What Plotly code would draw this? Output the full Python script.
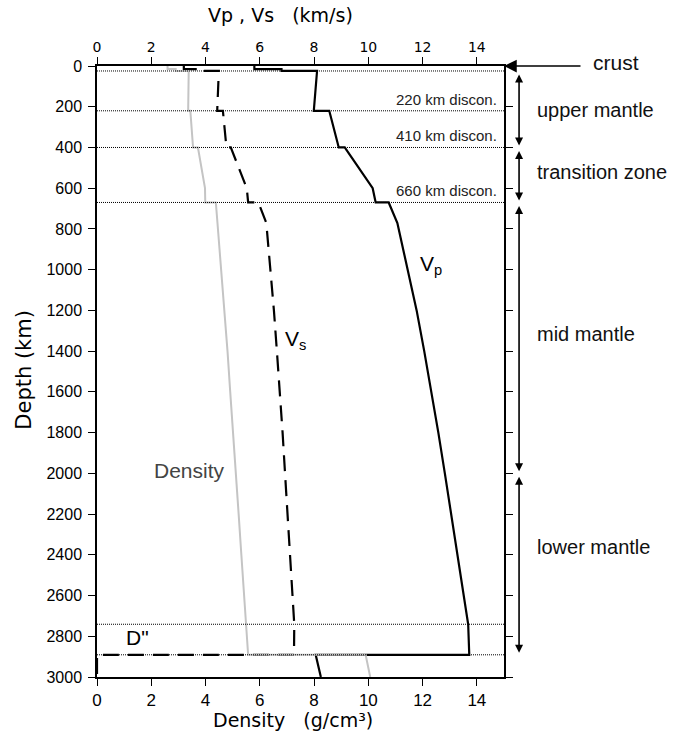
import plotly.graph_objects as go

# ---- data (PREM-like profile) ----
depth = [0, 15, 15, 24.4, 24.4, 220, 220, 400, 400, 600, 670, 670, 771, 1000, 1200,
         1400, 1600, 1800, 2000, 2200, 2400, 2600, 2741, 2891, 2891, 3000]
vp = [5.8, 5.8, 6.8, 6.8, 8.11, 7.99, 8.56, 8.91, 9.13, 10.16, 10.27, 10.75, 11.07, 11.46, 11.78,
      12.06, 12.33, 12.58, 12.82, 13.05, 13.28, 13.51, 13.68, 13.72, 8.06, 8.25]
vs = [3.2, 3.2, 3.9, 3.9, 4.49, 4.43, 4.64, 4.77, 4.93, 5.52, 5.57, 5.95, 6.24, 6.40, 6.52,
      6.63, 6.74, 6.84, 6.93, 7.02, 7.11, 7.20, 7.27, 7.26, 0.0, 0.0]
rho = [2.6, 2.6, 2.9, 2.9, 3.38, 3.36, 3.44, 3.54, 3.72, 3.98, 3.99, 4.38, 4.44, 4.58, 4.69,
       4.81, 4.91, 5.02, 5.12, 5.22, 5.32, 5.42, 5.49, 5.57, 9.90, 10.07]

boundaries = [24.4, 220, 400, 670, 2741, 2891]
discon_depths = [220, 400, 670]
discon_labels = ["220 km discon.", "410 km discon.", "660 km discon."]

zone_tops = [24.4, 400, 670, 2000]
zone_bottoms = [400, 670, 2000, 2891]
zone_names = ["upper mantle", "transition zone", "mid mantle", "lower mantle"]
zone_label_depths = [216, 520, 1316, 2362]

x_ticks = [0, 2, 4, 6, 8, 10, 12, 14]
y_ticks = list(range(0, 3001, 200))

Y_MAX = 3000
PLOT_H = 739 - 66 - 62  # plot height in px

fig = go.Figure()
fig.add_trace(go.Scatter(x=vp, y=depth, mode="lines", line=dict(color="black", width=2.2),
                         cliponaxis=False, showlegend=False))
fig.add_trace(go.Scatter(x=vs, y=depth, mode="lines",
                         line=dict(color="black", width=2.2, dash="16px,9px"),
                         cliponaxis=False, showlegend=False))
fig.add_trace(go.Scatter(x=rho, y=depth, mode="lines", line=dict(color="#c4c4c4", width=2),
                         cliponaxis=False, showlegend=False))
# invisible trace to carry the top axis
fig.add_trace(go.Scatter(x=[0, 15], y=[0, 0], xaxis="x2", mode="lines",
                         line=dict(width=0), hoverinfo="skip", showlegend=False))

shapes = []
for b in boundaries:
    shapes.append(dict(type="line", xref="paper", x0=0, x1=1, yref="y", y0=b, y1=b,
                       line=dict(color="black", width=1, dash="1px,1px"), layer="above"))

ann = []
for d, t in zip(discon_depths, discon_labels):
    ann.append(dict(text=t, xref="paper", x=0.988, xanchor="right", yref="y", y=d,
                    yanchor="bottom", yshift=1, showarrow=False,
                    font=dict(family="Liberation Sans", size=15, color="#222")))

for top, bot, name, ld in zip(zone_tops, zone_bottoms, zone_names, zone_label_depths):
    ann.append(dict(text="", xref="paper", x=1.037, yref="y", y=bot,
                    ax=0, ay=-(bot - top) * PLOT_H / Y_MAX,
                    showarrow=True, arrowhead=2, startarrowhead=2,
                    arrowside="end+start", arrowsize=1, startarrowsize=1, arrowwidth=1.6,
                    standoff=2, startstandoff=2, arrowcolor="black"))
    ann.append(dict(text=name, xref="paper", x=1.076, xanchor="left", yref="y", y=ld,
                    yanchor="middle", showarrow=False,
                    font=dict(family="Liberation Sans", size=20, color="#111")))

# crust arrow
ann.append(dict(text="", xref="paper", x=1.0, yref="y", y=0, ax=78, ay=0, showarrow=True,
                arrowhead=2, arrowsize=1.7, arrowwidth=1.5, arrowcolor="black"))
ann.append(dict(text="crust", xref="paper", x=1.214, xanchor="left", yref="paper", y=1.0065,
                yanchor="middle", showarrow=False,
                font=dict(family="Liberation Sans", size=21, color="#111")))

# curve labels
ann.append(dict(text="V<sub>p</sub>", x=12.3, y=975, xref="x", yref="y", showarrow=False,
                font=dict(family="Liberation Sans", size=21, color="black")))
ann.append(dict(text="V<sub>s</sub>", x=7.3, y=1345, xref="x", yref="y", showarrow=False,
                font=dict(family="Liberation Sans", size=21, color="black")))
ann.append(dict(text="Density", x=3.4, y=1984, xref="x", yref="y", showarrow=False,
                font=dict(family="Liberation Sans", size=21, color="#444")))
ann.append(dict(text='D"', x=1.5, y=2805, xref="x", yref="y", showarrow=False,
                font=dict(family="Liberation Sans", size=21, color="black")))

# axis titles
sp = "\u00a0\u00a0\u00a0"
ann.append(dict(text="Vp , Vs" + sp + "(km/s)", xref="paper", x=0.452, xanchor="center",
                yref="paper", y=1.0835, yanchor="middle", showarrow=False,
                font=dict(family="DejaVu Sans", size=19, color="black")))
ann.append(dict(text="Density" + sp + "(g/cm\u00b3)", xref="paper", x=0.482, xanchor="center",
                yref="paper", y=-0.0704, yanchor="middle", showarrow=False,
                font=dict(family="DejaVu Sans", size=19, color="black")))
ann.append(dict(text="Depth (km)", xref="paper", x=-0.18, xanchor="center", yref="paper",
                y=0.5025, yanchor="middle", textangle=-90, showarrow=False,
                font=dict(family="DejaVu Sans", size=21, color="black")))

axis_common = dict(range=[0, 15], tickvals=x_ticks, ticks="outside", ticklen=7, tickwidth=1.2,
                   tickcolor="black", showline=True, linecolor="black", linewidth=1.5,
                   showgrid=False, zeroline=False)

fig.update_layout(
    width=673, height=739,
    margin=dict(l=97, r=169, t=66, b=62),
    paper_bgcolor="white", plot_bgcolor="white",
    showlegend=False,
    xaxis=dict(**axis_common, side="bottom",
               tickfont=dict(family="Liberation Sans", size=17, color="black")),
    xaxis2=dict(**axis_common, side="top", overlaying="x", anchor="y",
                tickfont=dict(family="DejaVu Sans", size=14, color="black")),
    yaxis=dict(range=[Y_MAX, 0], tickvals=y_ticks, ticks="outside", ticklen=7, tickwidth=1.2,
               tickcolor="black", showline=True, linecolor="black", linewidth=1.5, mirror="ticks",
               showgrid=False, zeroline=False, ticklabelstandoff=3,
               tickfont=dict(family="Liberation Sans", size=16, color="black")),
    shapes=shapes,
    annotations=ann,
)

fig.write_html("out.html")
